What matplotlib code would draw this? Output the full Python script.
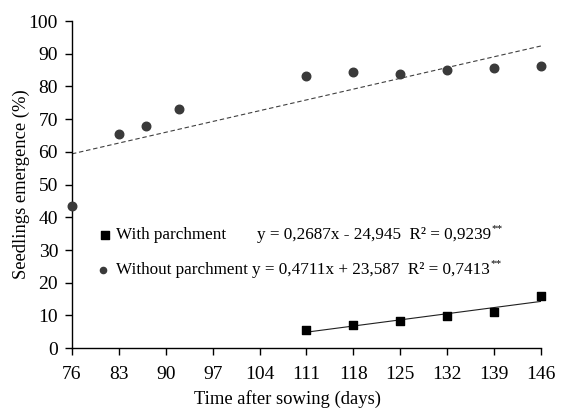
import matplotlib
matplotlib.use("Agg")
import matplotlib.pyplot as plt
import numpy as np

plt.rcParams['font.family'] = ['Liberation Serif', 'DejaVu Serif']

x_without = [76, 83, 87, 92, 111, 118, 125, 132, 139, 146]
y_without = [43.5, 65.5, 68.0, 73.0, 83.2, 84.5, 83.7, 85.0, 85.5, 86.2]
x_with = [111, 118, 125, 132, 139, 146]
y_with = [5.5, 7.0, 8.3, 9.8, 11.2, 16.0]

slope_without, icpt_without = 0.4711, 23.587
slope_with, icpt_with = 0.2687, -24.945

xticks = [76, 83, 90, 97, 104, 111, 118, 125, 132, 139, 146]
yticks = list(range(0, 101, 10))

fig = plt.figure(figsize=(5.74, 4.12), dpi=100)
ax = fig.add_axes([0.1254, 0.155, 0.817, 0.794])

xl = np.array([76, 146])
ax.plot(xl, slope_without * xl + icpt_without, ls=(0, (4, 2.5)), color='#404040', lw=0.8)
xw = np.array([111, 146])
ax.plot(xw, slope_with * xw + icpt_with, color='#202020', lw=0.8)

ax.scatter(x_without, y_without, s=38, marker='o', color='#3a3a3a', zorder=3, clip_on=False)
ax.scatter(x_with, y_with, s=38, marker='s', color='black', zorder=3, clip_on=False)

ax.set_xlim(76, 146)
ax.set_ylim(0, 100)
ax.set_xticks(xticks)
ax.set_yticks(yticks)
for s in ['top', 'right']:
    ax.spines[s].set_visible(False)
for s in ['left', 'bottom']:
    ax.spines[s].set_linewidth(1.0)
ax.tick_params(direction='out', length=5, width=1.0, labelsize=14)
ax.tick_params(axis='x', pad=7.5)
ax.tick_params(axis='y', pad=5)
ax.set_xlabel('Time after sowing (days)', fontsize=13.4, va='center')
ax.set_ylabel('Seedlings emergence (%)', fontsize=13.4, va='center')
ax.xaxis.set_label_coords(0.46, -0.156)
ax.yaxis.set_label_coords(-0.108, 0.5)

# legend-like annotations
y1, y2 = 34.6, 23.9
ax.scatter([80.9], [y1], s=30, marker='s', color='black', clip_on=False)
ax.scatter([80.7], [y2], s=20, marker='o', color='#3a3a3a', clip_on=False)
ax.text(82.5, y1, 'With parchment', fontsize=12.3, va='center', ha='left')
ax.text(82.5, y2, 'Without parchment', fontsize=12.3, va='center', ha='left')
t1 = ax.text(103.6, y1, 'y = 0,2687x - 24,945  R² = 0,9239', fontsize=12.3, va='center', ha='left')
t2 = ax.text(102.9, y2, 'y = 0,4711x + 23,587  R² = 0,7413', fontsize=12.3, va='center', ha='left')
for t in (t1, t2):
    ax.annotate('**', xy=(1, 0.62), xycoords=t, fontsize=8, ha='left', va='bottom',
                xytext=(0.5, 0), textcoords='offset points')

fig.savefig('out.png', dpi=100)
